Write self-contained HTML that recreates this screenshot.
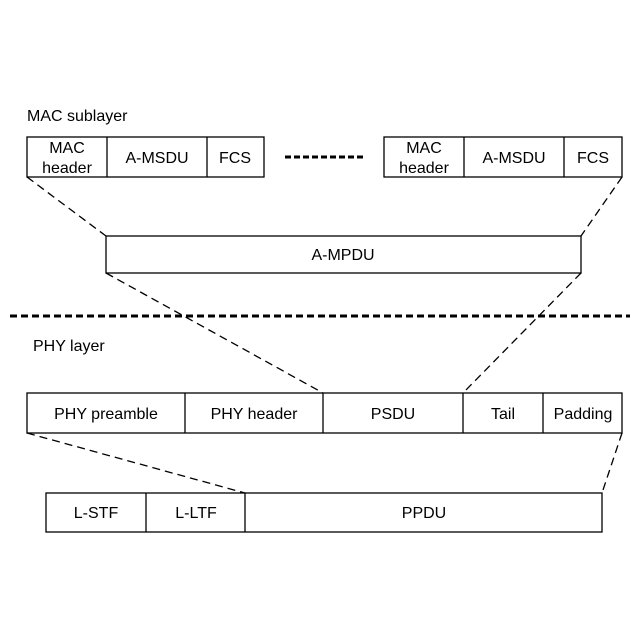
<!DOCTYPE html>
<html><head><style>
html,body{margin:0;padding:0;background:#fff;}
svg{display:block;}
text{font-family:"Liberation Sans",sans-serif;font-size:16px;fill:#000;}
</style></head><body>
<svg width="640" height="640" viewBox="0 0 640 640">
<g fill="none" stroke="#000" stroke-width="1.3">
<rect x="27" y="137" width="237" height="40"/>
<line x1="107" y1="137" x2="107" y2="177"/><line x1="207" y1="137" x2="207" y2="177"/>
<rect x="384" y="137" width="238" height="40"/>
<line x1="464" y1="137" x2="464" y2="177"/><line x1="564" y1="137" x2="564" y2="177"/>
<rect x="106" y="236" width="475" height="37"/>
<rect x="27" y="393" width="595" height="40"/>
<line x1="185" y1="393" x2="185" y2="433"/><line x1="323" y1="393" x2="323" y2="433"/>
<line x1="463" y1="393" x2="463" y2="433"/><line x1="543" y1="393" x2="543" y2="433"/>
<rect x="46" y="493" width="556" height="39"/>
<line x1="146" y1="493" x2="146" y2="532"/><line x1="245" y1="493" x2="245" y2="532"/>
</g>
<g fill="none" stroke="#000" stroke-width="1.3" stroke-dasharray="8,5">
<line x1="27" y1="177" x2="106" y2="236"/><line x1="622" y1="177" x2="581" y2="236"/>
<line x1="106" y1="273" x2="323" y2="393"/><line x1="581" y1="273" x2="463" y2="393"/>
<line x1="27" y1="433" x2="245" y2="493"/><line x1="622" y1="433" x2="602" y2="493"/>
</g>
<line x1="285" y1="157" x2="366" y2="157" stroke="#000" stroke-width="3" stroke-dasharray="6,3"/>
<line x1="10" y1="316" x2="630" y2="316" stroke="#000" stroke-width="3" stroke-dasharray="7,4"/>
<text x="27" y="121">MAC sublayer</text>
<text x="33" y="351">PHY layer</text>
<g text-anchor="middle">
<text x="67" y="153">MAC</text><text x="67" y="173">header</text>
<text x="157" y="163">A-MSDU</text><text x="235" y="163">FCS</text>
<text x="424" y="153">MAC</text><text x="424" y="173">header</text>
<text x="514" y="163">A-MSDU</text><text x="593" y="163">FCS</text>
<text x="343" y="260">A-MPDU</text>
<text x="106" y="419">PHY preamble</text><text x="254" y="419">PHY header</text>
<text x="393" y="419">PSDU</text><text x="503" y="419">Tail</text><text x="583" y="419">Padding</text>
<text x="96" y="518">L-STF</text><text x="196" y="518">L-LTF</text><text x="424" y="518">PPDU</text>
</g>
</svg>
</body></html>
